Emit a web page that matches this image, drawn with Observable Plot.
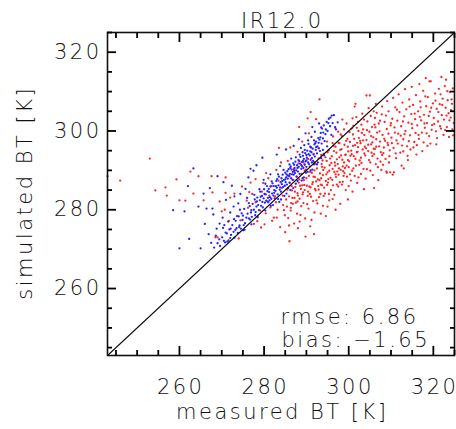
<!DOCTYPE html>
<html>
<head>
<meta charset="utf-8">
<script src="https://cdn.jsdelivr.net/npm/d3@7"></script>
<script src="https://cdn.jsdelivr.net/npm/@observablehq/plot@0.6"></script>
<style>
  html, body { margin: 0; padding: 0; background: white; }
  #chart { width: 456px; height: 429px; }
</style>
</head>
<body>
<div id="chart"></div>
<script>
// ---- data ----
const title = "IR12.0";
const xLabel = "measured BT [K]";
const yLabel = "simulated BT [K]";
const statLines = ["rmse: 6.86", "bias: \u22121.65"];
const axisDomain = [243, 325];
const majorTicks = [260, 280, 300, 320];
const minorTicks = [245, 250, 255, 265, 270, 275, 285, 290, 295, 305, 310, 315, 325];

// red series (measured, simulated)
const redPts = [
[243.0,288.5],[246.0,287.4],[253.0,293.0],[254.3,284.9],[256.7,285.7],[257.0,283.6],[259.3,287.7],[260.0,282.4],[262.6,289.7],[264.5,288.5],[263.3,284.1],[265.7,282.4],[267.6,288.5],[267.8,284.4],[269.5,282.1],[270.7,280.0],[270.9,288.2],[270.9,284.3],[272.0,283.1],[270.0,279.6],[268.5,273.0],[273.0,284.1],[261.4,282.3],[269.0,273.0],
[271.7,277.2],[274.4,277.3],[274.0,272.7],[277.6,276.4],[279.1,279.8],[282.3,278.0],[276.2,280.5],[278.4,277.1],[280.1,276.3],[281.5,280.6],[283.0,278.0],[283.8,275.6],[284.5,281.2],[285.7,277.9],[286.3,279.8],[287.1,276.5],[287.9,282.1],[288.6,278.7],[289.8,273.2],[290.5,280.3],[291.2,277.4],[292.6,281.6],[293.4,279.0],[294.1,283.5],[295.0,280.8],[285.0,274.3],[286.7,283.0],[282.6,283.4],[280.8,282.1],[279.5,284.6],[278.0,281.9],[277.2,284.0],[276.8,286.9],[275.9,282.3],[281.8,286.0],[283.4,287.4],[284.2,285.5],[286.0,272.0],[288.0,275.3],[290.8,284.0],[292.0,285.3],[293.7,286.2],[296.2,282.7],[297.5,285.9],[298.0,281.5],[289.5,286.3],
[279.8,286.8],[282.9,290.1],[285.6,292.4],[287.9,294.7],[289.0,297.3],[286.2,295.8],[284.0,292.0],[290.6,299.4],[288.3,301.0],[283.5,295.7],[280.5,289.3],[278.0,287.8],[276.5,284.5],[274.8,285.9],[292.3,303.0],[291.0,304.8],[290.3,303.2],[293.1,308.0],[289.6,291.4],[281.0,288.0],
[285.2,282.6],[285.5,285.1],[285.9,283.4],[286.1,286.8],[286.4,281.7],[286.6,284.9],[286.9,287.6],[287.2,283.0],[287.4,285.8],[287.7,288.4],[287.9,284.2],[288.2,286.9],[288.4,282.8],[288.7,285.3],[288.9,289.1],[289.1,283.9],[289.4,287.5],[289.6,285.0],[289.9,290.2],[290.1,286.1],[290.3,283.5],[290.6,288.6],[290.8,291.0],[291.0,285.7],[291.3,289.4],[291.5,287.0],[291.8,292.1],[292.0,288.3],[292.2,284.9],[292.5,290.5],[292.7,287.7],[292.9,293.0],[293.2,289.2],[293.4,286.4],[293.6,291.6],[293.9,288.8],[294.1,294.2],[294.3,290.7],[294.6,287.3],[294.8,292.4],[295.0,289.5],[295.3,295.1],[295.5,291.3],[295.7,288.1],[296.0,293.6],[296.2,290.4],[296.4,296.2],[296.7,292.0],[296.9,289.0],[297.1,294.5],[297.4,291.6],[297.6,297.0],[297.8,293.3],[298.1,290.1],[298.3,295.4],[298.5,292.7],[298.8,288.6],[299.0,296.5],[299.2,293.9],[299.5,291.2],[299.7,298.0],[299.9,294.8],
[286.0,288.5],[287.0,290.3],[288.0,283.6],[289.0,286.2],[290.0,288.0],[290.9,289.6],[291.9,290.0],[292.8,286.0],[293.8,292.5],[294.7,289.0],[295.6,293.0],[296.5,294.9],[297.3,289.7],[298.2,293.8],[299.1,290.6],[299.8,296.0],[291.1,283.3],[292.4,282.4],[293.3,284.0],[294.2,285.6],[295.1,286.9],[296.1,287.6],[297.0,288.3],[297.9,287.0],[298.7,289.8],[299.6,288.4],[294.9,297.3],[296.3,298.6],[297.5,299.8],[298.9,300.4],[293.0,295.6],[291.7,294.2],[290.4,292.9],[289.3,292.0],[288.1,291.8],[287.2,289.8],
[300.1,292.3],[300.3,297.2],[300.6,295.0],[300.8,289.9],[301.0,299.1],[301.2,293.6],[301.5,296.4],[301.7,291.2],[301.9,300.8],[302.1,294.7],[302.4,298.2],[302.6,292.5],[302.8,296.9],[303.0,301.6],[303.3,295.3],[303.5,290.4],[303.7,299.0],[303.9,293.8],[304.2,297.7],[304.4,302.4],[304.6,294.9],[304.9,299.8],[305.1,292.0],[305.3,296.6],[305.5,301.0],[305.8,298.4],[306.0,294.1],[306.2,303.3],[306.5,296.0],[306.7,299.6],[306.9,290.8],[307.1,301.9],[307.4,297.3],[307.6,294.6],[307.8,304.2],[308.0,299.0],[308.3,295.8],[308.5,302.3],[308.7,292.9],[309.0,300.5],[309.2,297.0],[309.4,305.0],[309.6,293.6],[309.9,301.4],[300.5,287.4],[301.4,288.6],[302.9,289.1],[304.0,287.9],[305.7,288.8],[307.0,287.5],[308.9,289.7],[309.8,289.5],[310.4,288.9],[301.8,303.5],[303.2,304.4],[304.7,305.8],[306.4,306.9],[305.0,309.0],[304.2,309.0],[301.4,306.2],
[310.1,298.3],[310.3,303.1],[310.6,295.7],[310.8,300.9],[311.0,306.0],[311.3,297.6],[311.5,302.6],[311.7,299.3],[312.0,304.8],[312.2,294.5],[312.4,301.2],[312.7,307.2],[312.9,297.9],[313.1,303.7],[313.4,300.0],[313.6,305.5],[313.8,296.1],[314.1,302.1],[314.3,308.0],[314.5,298.9],[314.8,304.3],[315.0,300.7],[315.2,306.6],[315.5,297.2],[315.7,303.0],[315.9,309.1],[316.2,301.4],[316.4,305.0],[316.6,298.0],[316.9,307.5],[317.1,302.7],[317.3,299.6],[317.6,310.2],[317.8,304.1],[318.0,300.8],[318.3,306.3],[318.5,302.0],[318.7,308.6],[319.0,298.7],[319.2,304.9],[319.4,312.6],[319.7,301.5],[319.9,307.0],[320.1,303.3],[320.4,309.5],[320.6,299.9],[320.8,305.6],[321.1,302.4],[321.3,310.7],[321.5,306.8],[321.8,300.6],[322.0,304.0],[322.2,308.2],[322.5,302.9],[322.7,311.4],[322.9,305.9],[323.2,301.0],[323.4,307.8],[323.6,304.5],[323.9,309.9],[324.1,303.4],[324.4,306.9],[324.6,310.8],[324.8,302.0],
[319.1,312.6],[310.7,289.5],[309.0,289.4],[312.5,291.2],[314.0,292.6],[306.0,285.5],[316.0,294.0],[318.6,296.2],[301.6,306.9],[298.5,302.9],[296.8,300.8],[313.0,290.5],
[286.3,280.5],[287.5,281.8],[288.8,280.9],[290.2,281.4],[291.6,282.2],[293.0,283.2],[294.4,284.1],[295.8,285.0],[297.2,286.4],[298.6,287.1],[300.0,286.0],[289.7,277.8],[291.9,279.3],[293.9,281.0],[296.6,283.8],[299.3,285.0],[302.0,286.8],[287.8,279.0],[295.4,282.4],[300.9,284.6],
[300.2,299.7],[301.1,301.3],[302.3,300.0],[303.6,302.9],[305.2,303.8],[306.6,304.6],[307.9,306.2],[309.1,307.6],[310.5,308.4],[311.8,309.3],[313.3,310.6],[314.9,311.2],[316.7,311.9],[318.2,313.4],[321.9,313.7],[323.0,313.0],
[302.7,297.5],[303.8,296.0],[305.4,294.5],[306.8,293.0],[308.1,291.4],[309.5,292.0],[311.2,293.1],[312.9,294.8],[314.6,295.3],[316.1,296.4],[317.7,297.1],[319.3,296.8],[320.9,298.2],[322.4,299.0],[323.7,298.5],[324.5,300.4],
[296.9,296.0],[297.8,296.9],[298.4,298.7],[299.4,297.5],[300.7,300.6],[301.3,298.0],[302.0,297.0],[303.1,299.5],[304.3,300.2],[305.6,297.1],[306.3,300.9],[307.3,299.9],[308.4,298.0],[309.3,296.4],[310.0,302.0],
[288.3,287.7],[289.6,289.9],[291.4,286.5],[292.1,291.7],[293.5,288.0],[294.0,290.1],[295.2,287.8],[295.9,291.9],[296.6,289.6],[297.2,292.8],[298.0,295.2],[298.6,291.0],[299.3,294.0],[300.0,290.8],[300.4,293.7],[301.0,296.2],[301.6,292.9],[302.2,295.9],[302.9,293.2],[303.4,297.6],[304.1,295.6],[304.8,292.6],[305.3,298.7],[305.9,295.5],[306.5,297.9],[289.2,284.4],[290.7,285.9],[292.3,287.2],[293.7,290.9],[294.5,293.3],[295.4,289.9],[296.8,291.2],[297.7,290.5],[298.9,292.0],[299.8,292.6],[300.7,294.1],[301.9,294.6],[302.5,291.4],[303.7,294.3],[304.6,296.5],[305.6,293.6],[306.2,295.4],[307.2,296.1],[307.9,293.9],[308.6,297.5],[309.4,299.3],[310.2,296.9],[310.9,299.6],[311.6,296.8],[312.3,298.8],[313.2,299.2],[314.2,297.4],[314.9,301.8],[315.8,299.5],[316.8,303.6],[317.9,301.9],[318.9,303.8],[320.2,301.8],[321.2,304.8],[322.1,306.6],[323.1,303.9],[324.2,305.3],
[284.4,283.6],[285.4,280.8],[286.5,286.0],[287.3,284.6],[288.5,286.1],[289.3,281.7],[290.4,284.6],[291.7,288.4],[292.9,285.1],[293.1,287.5],[294.9,286.3],[295.3,284.0],[296.3,286.2],[297.6,288.9],[298.4,286.4],[299.0,289.3],[300.3,289.0],[301.1,290.5],[302.3,288.2],[303.0,291.9],[304.3,290.3],[305.1,289.9],[306.4,291.6],[307.5,292.2],[308.2,294.4],[309.7,295.1],[311.1,294.3],[312.6,296.3],[313.9,293.7],[315.3,295.8],[316.5,299.0],[317.4,294.9],[318.4,299.4],[319.6,300.3],[320.7,296.6],[321.6,301.2],[322.8,300.2],[323.8,302.7],[324.7,298.9],
[311.4,305.4],[312.8,302.4],[314.4,306.2],[315.6,304.4],[317.0,306.0],[318.1,308.8],[319.5,305.9],[320.5,307.7],[321.7,309.3],[323.3,310.1],[324.3,308.0],[308.8,303.9],[307.4,302.6],[306.1,301.6],[305.9,305.0],[303.4,300.4],[302.2,302.3],[300.9,303.2],[299.5,301.9],[298.1,299.1],[296.2,296.9],[295.0,294.6],[293.5,293.9],
[286.8,281.5],[284.9,278.6],[283.2,280.0],[281.9,277.2],[280.4,279.1],[279.3,275.5],[281.2,283.6],[282.8,281.9],[284.7,279.9],[288.4,277.0],[290.9,275.8],[294.6,278.4],[296.9,280.0],[299.8,282.6],[303.6,285.2],[307.7,290.1],[291.8,273.8],[285.9,276.0]
];

// blue series (measured, simulated)
const bluePts = [
[268.2,270.4],[269.0,271.5],[269.6,270.8],[270.1,273.0],[270.5,272.1],[270.9,274.2],[271.3,271.9],[271.6,272.2],[271.8,275.0],[272.2,273.6],[272.5,276.1],[272.8,274.4],[273.0,272.9],[273.3,277.2],[273.5,275.3],[273.8,274.1],[274.0,278.3],[274.2,276.0],[274.5,275.2],[274.7,279.1],[274.9,277.4],[275.1,274.8],[275.3,280.2],[275.5,276.6],[275.8,278.0],
[260.0,270.2],[265.0,270.2],[263.3,290.5],[261.2,279.6],[264.5,280.8],[266.4,280.3],[267.8,280.3],[269.0,288.5],[270.4,287.0],[268.0,278.8],[272.8,280.8],[269.5,276.5],[270.2,278.0],[271.0,282.5],[272.0,279.3],[273.0,283.4],[271.5,277.0],[268.8,275.2],[266.9,273.8],[270.6,276.1],[273.9,281.6],[274.4,284.0],[272.4,286.1],[275.6,285.3],[276.3,288.2],[277.5,289.9],[276.0,283.0],[278.2,291.3],
[276.1,279.0],[276.4,277.8],[276.6,280.9],[276.9,279.3],[277.1,278.2],[277.3,281.5],[277.6,280.0],[277.8,282.6],[278.0,279.4],[278.2,280.8],[278.4,283.1],[278.6,281.2],[278.8,279.9],[279.0,282.4],[279.1,284.6],[279.3,281.0],[279.5,283.5],[279.7,280.6],[279.9,282.9],[280.0,285.2],[280.2,281.8],[280.4,283.9],[280.5,282.3],[280.7,286.0],[280.9,283.0],[281.0,281.9],[281.2,284.5],[281.4,283.2],[281.5,285.9],[281.7,282.8],[281.9,284.1],[282.0,286.7],[282.2,283.6],[282.4,285.0],[282.5,282.9],[282.7,284.8],[282.9,287.3],[283.0,285.6],[283.2,283.9],[283.4,286.2],[283.5,288.4],[283.7,285.1],[283.9,287.0],[284.0,284.6],[284.2,286.5],[284.4,288.9],[284.5,285.8],[284.7,287.6],[284.9,286.1],[285.0,289.4],
[285.1,287.0],[285.2,288.2],[285.4,286.4],[285.5,289.8],[285.6,287.9],[285.8,290.3],[285.9,288.6],[286.0,286.9],[286.1,289.1],[286.3,291.0],[286.4,288.0],[286.5,290.2],[286.7,287.6],[286.8,289.6],[286.9,291.8],[287.0,288.9],[287.2,290.6],[287.3,289.3],[287.4,292.2],[287.6,290.0],[287.7,288.4],[287.8,291.3],[288.0,289.7],[288.1,292.6],[288.2,290.9],[288.4,289.1],[288.5,291.7],[288.6,293.4],[288.8,290.4],[288.9,292.1],[289.0,291.0],[289.2,293.7],[289.3,290.6],[289.4,292.9],[289.6,291.5],[289.7,294.4],[289.8,292.3],[290.0,290.9],[290.1,293.2],[290.2,295.0],[290.4,292.0],[290.5,294.1],[290.6,291.6],[290.8,293.8],[290.9,296.0],[291.0,292.7],[291.2,294.6],[291.3,293.1],[291.5,295.5],[291.6,292.4],[291.7,294.0],[291.9,296.6],[292.0,293.5],
[292.2,295.2],[292.3,297.3],[292.5,294.3],[292.6,296.1],[292.8,298.2],[292.9,295.6],[293.1,297.8],[293.2,294.9],[293.4,299.5],[293.6,296.8],[293.7,300.6],[293.9,298.1],[294.1,301.4],[294.3,297.4],[294.5,299.2],[294.8,302.3],[295.0,300.0],[295.3,303.1],[295.6,301.2],[296.0,303.9],[296.2,302.0],[293.0,301.9],[292.0,299.8],[291.2,298.5],[290.4,297.6],[289.5,296.4],[288.7,295.7],[297.4,302.2],[296.8,301.0],[295.9,299.0],[297.0,300.4],
[283.6,282.0],[284.8,283.5],[286.2,285.0],[287.5,286.6],[288.9,287.4],[290.3,289.6],[291.4,290.2],[289.1,288.0],[285.3,284.1],[282.1,281.2],[280.3,279.8],[278.5,278.1],[277.0,276.3],[275.4,274.9],[292.7,292.0],[293.5,293.1],
[279.2,283.3],[280.1,284.0],[281.1,285.3],[282.3,286.0],[283.1,287.8],[284.1,288.0],[285.3,289.0],[286.2,290.6],[287.1,291.4],[288.3,292.4],[289.1,294.6],[290.0,293.9],[291.1,295.8],[292.1,296.9],[293.3,298.4],[281.6,281.0],[283.3,282.7],[285.7,285.5],[287.9,287.3],[289.9,289.4],[291.8,291.5],[277.9,278.6],[276.7,277.5],[275.2,276.1],[274.1,275.6],[273.2,274.9],[272.0,272.8],[270.8,271.7],
[276.4,281.7],[277.0,279.9],[277.7,283.8],[278.3,282.1],[278.9,285.2],[279.6,282.0],[280.3,286.6],[280.8,284.7],[281.3,282.4],[281.8,287.2],[282.4,284.3],[282.8,286.0],[283.3,289.0],[283.8,285.7],[284.3,287.3],[284.6,290.1],[285.0,287.7],[285.6,288.7],[286.0,291.5],[286.6,289.0],[287.1,290.0],[287.5,293.3],[287.9,290.6],[288.4,294.0],[288.8,291.3],[289.2,292.4],[289.6,295.2],[290.0,292.5],[290.5,296.7],[290.9,294.8],[291.3,292.0],[291.8,297.6],[292.3,295.9],[292.9,297.0],[293.5,300.9],[294.0,299.6],[294.6,300.4],[295.2,302.0],[295.7,303.4],[296.5,304.0],
[275.0,278.5],[274.3,280.0],[273.6,278.4],[272.9,277.6],[272.1,275.2],[271.2,274.0],[270.3,275.4],[269.4,272.5],[268.6,273.4],[267.5,271.6],[266.0,276.4],[265.7,284.1],[267.2,285.5],[262.3,272.6],[258.5,279.9],[262.0,286.0],[276.8,290.4],[279.6,293.2],[283.0,294.0],[285.2,295.3],[287.0,296.2],[288.2,297.9],[289.8,299.4],[291.4,301.0],[279.9,287.6],[281.5,289.0],[283.8,291.1],[286.4,293.0],[284.0,282.6],[286.9,285.5],[289.4,288.2],[291.0,290.0],[292.5,291.5],[294.2,293.8],[294.9,296.1],[293.9,295.2]
];

// ---- chart ----
const W = 456, H = 429;
const mL = 107, mR = 2, mT = 32, mB = 74;
const majorLen = 9, minorLen = 5;
const ink = "#111";
const font = "DejaVu Sans";
const fs = 21, ls = 2.5;
const px = d => d[0], py = d => d[1];
const id = d => d;
const blank = () => "";

const tickMarks = [];
for (const [ticks, len] of [[majorTicks, majorLen], [minorTicks, minorLen]]) {
  const o = {tickSize: -len, tickFormat: blank, label: null, stroke: "black", strokeWidth: 1.8};
  tickMarks.push(Plot.axisX(ticks, {anchor: "bottom", ...o}));
  tickMarks.push(Plot.axisX(ticks, {anchor: "top", ...o}));
  tickMarks.push(Plot.axisY(ticks, {anchor: "left", ...o}));
  tickMarks.push(Plot.axisY(ticks, {anchor: "right", ...o}));
}

const textOpts = {fontSize: fs, fill: ink};

const chart = Plot.plot({
  width: W,
  height: H,
  marginLeft: mL,
  marginRight: mR,
  marginTop: mT,
  marginBottom: mB,
  style: {fontFamily: font, fontSize: fs + "px", color: ink, background: "white", fontWeight: 200, letterSpacing: ls + "px"},
  x: {domain: axisDomain, axis: null},
  y: {domain: axisDomain, axis: null},
  marks: [
    Plot.dot(redPts, {x: px, y: py, r: 1.15, fill: "#ff2424", stroke: null}),
    Plot.dot(bluePts, {x: px, y: py, r: 1.15, fill: "#2424ff", stroke: null}),
    Plot.line(axisDomain, {x: id, y: id, stroke: ink, strokeWidth: 1.1}),
    Plot.frame({stroke: ink, strokeWidth: 1.6}),
    ...tickMarks,
    Plot.axisX(majorTicks, {anchor: "bottom", tickSize: 0, tickPadding: 24, dx: ls / 2, label: null, fontSize: fs}),
    Plot.axisY(majorTicks, {anchor: "left", tickSize: 0, tickPadding: 6, label: null, fontSize: fs}),
    Plot.text([xLabel], {frameAnchor: "bottom", dx: ls / 2, dy: 57, textAnchor: "middle", lineAnchor: "middle", ...textOpts}),
    Plot.text([yLabel], {frameAnchor: "left", dx: -82, dy: -ls / 2, rotate: -90, textAnchor: "middle", lineAnchor: "middle", ...textOpts}),
    Plot.text([title], {frameAnchor: "top", dx: ls / 2, dy: -11, textAnchor: "middle", lineAnchor: "middle", ...textOpts}),
    Plot.text([statLines[0]], {frameAnchor: "bottom-left", dx: 173, dy: -38, textAnchor: "start", lineAnchor: "middle", ...textOpts}),
    Plot.text([statLines[1]], {frameAnchor: "bottom-left", dx: 174, dy: -15, textAnchor: "start", lineAnchor: "middle", ...textOpts})
  ]
});
document.getElementById("chart").appendChild(chart);
</script>
</body>
</html>
